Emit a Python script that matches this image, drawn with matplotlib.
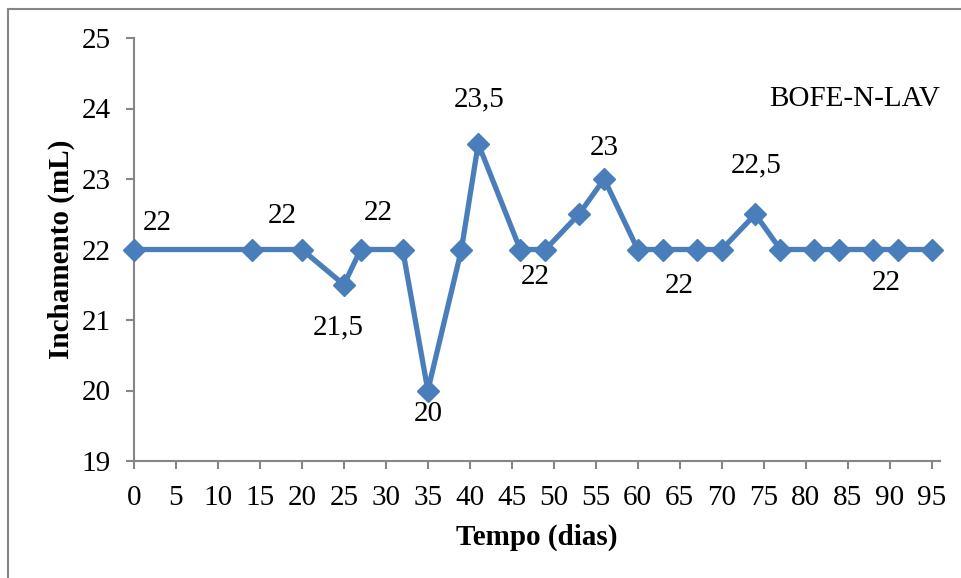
import matplotlib
matplotlib.use('Agg')
import matplotlib.pyplot as plt
from matplotlib.lines import Line2D

# Data
dias = [0, 14, 20, 25, 27, 32, 35, 39, 41, 46, 49, 53, 56, 60, 63, 67, 70, 74, 77, 81, 84, 88, 91, 95]
inchamento = [22, 22, 22, 21.5, 22, 22, 20, 22, 23.5, 22, 22, 22.5, 23, 22, 22, 22, 22, 22.5, 22, 22, 22, 22, 22, 22]
x_ticks = list(range(0, 96, 5))
y_ticks = [19, 20, 21, 22, 23, 24, 25]
serie_nome = 'BOFE-N-LAV'

# which points carry a data label, and where the label sits (offset in points)
label_idx = [0, 1, 4, 3, 6, 8, 9, 12, 14, 17, 21]
label_off = [(17, 19), (22, 24), (13, 26), (-4, -31), (0, -17), (1, 32),
             (11, -20), (0, 22), (12, -26), (1, 35), (10, -24)]

plt.rcParams['font.family'] = ['Liberation Serif', 'DejaVu Serif']
fs = 21
cor = '#4a7ebb'
cinza = '#868686'

fig = plt.figure(figsize=(9.61, 5.78), dpi=100)
ax = fig.add_axes([134/961, 1-461/578, 806/961, 423/578])

ax.plot(dias, inchamento, color=cor, lw=3.8, marker='D', ms=11,
        mfc=cor, mec=cor, mew=1, clip_on=False, zorder=3)

def fmt(v):
    return ('%g' % v).replace('.', ',')

for i, (dx, dy) in zip(label_idx, label_off):
    ax.annotate(fmt(inchamento[i]), (dias[i], inchamento[i]), xytext=(dx, dy),
                textcoords='offset points', ha='center', va='center', fontsize=fs)

fig.text(855/961, 1-99/578, serie_nome, fontsize=fs, ha='center', va='center')

ax.set_xlim(0, 96)
ax.set_ylim(19, 25)
ax.set_xticks(x_ticks)
ax.set_yticks(y_ticks)

for s in ['top', 'right']:
    ax.spines[s].set_visible(False)
for s in ['left', 'bottom']:
    ax.spines[s].set_color(cinza)
    ax.spines[s].set_linewidth(1.5)
ax.tick_params(axis='both', color=cinza, width=1.5, length=6, labelsize=fs)
ax.tick_params(axis='x', pad=11)
ax.tick_params(axis='y', pad=11)

ax.set_xlabel('Tempo (dias)', fontsize=fs, fontweight='bold', va='center')
ax.xaxis.set_label_coords(0.5, -(537-461)/423)
ax.set_ylabel('Inchamento (mL)', fontsize=fs, fontweight='bold', va='center')
ax.yaxis.set_label_coords(-(134-61)/806, 0.5)

# chart area border (left and top visible)
fig.add_artist(Line2D([8/961, 8/961], [0, 1-9/578], color=cinza, lw=1.5))
fig.add_artist(Line2D([8/961, 1], [1-9/578, 1-9/578], color=cinza, lw=1.5))

fig.savefig('out.png', dpi=100)
